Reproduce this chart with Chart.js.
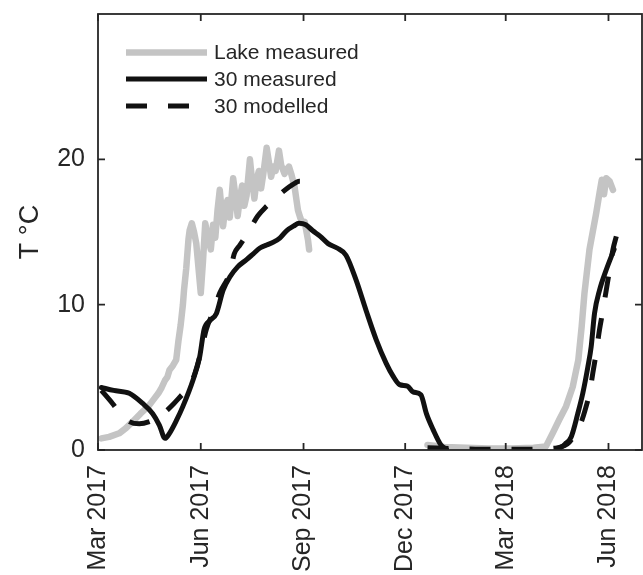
<!DOCTYPE html>
<html lang="en">
<head>
    <meta charset="UTF-8">
    <title>Lake and 30 temperature</title>
    <script src="https://cdn.jsdelivr.net/npm/chart.js"></script>
    <style>
        html, body { margin: 0; padding: 0; background: #fff; }
        #chart { width: 643px; height: 575px; }
    </style>
</head>
<body>
    <div id="chart"><canvas id="canv" width="643" height="575"></canvas></div>
    <script>
        // days counted from 1 Mar 2017
        const tickDays = [0, 92, 184, 275, 365, 457]
        const tickLabels = ['Mar 2017', 'Jun 2017', 'Sep 2017', 'Dec 2017', 'Mar 2018', 'Jun 2018']
        const yTicks = [0, 10, 20]

        const lakeDay = [3, 10, 19, 25, 31, 38, 45, 50, 54, 57, 60, 62, 64, 67, 70, 72, 74, 76, 77, 79, 81, 82, 84, 86, 88, 90, 92, 94, 96, 98,
            101, 103, 105, 107, 109, 111, 112, 114, 116, 118, 121, 123, 125, 127, 129, 131, 133, 136, 138, 140, 142, 144, 146, 148,
            151, 153, 155, 157, 159, 162, 164, 167, 169, 171, 173, 176, 179, 181, 183, 185, 188, 189,
            240,
            295, 310, 330, 350, 370, 390, 401, 407, 413, 419, 425, 430, 433, 435.5, 440, 446, 449, 451, 453, 455, 458, 461]
        const lakeT = [0.8, 0.9, 1.15, 1.5, 1.95, 2.5, 3.0, 3.5, 3.9, 4.3, 4.8, 5.0, 5.5, 5.8, 6.2, 7.5, 8.6, 10.0, 11.0, 12.5, 14.5, 15.1, 15.6, 15.0, 14.2, 12.5, 10.8, 13.0, 15.6, 14.8,
            13.8, 15.5, 14.6, 16.5, 17.9, 16.2, 15.4, 16.8, 17.2, 16.0, 18.7, 17.5, 16.1, 17.3, 18.2, 16.8, 17.5, 20.0, 18.5, 17.3, 18.6, 19.2, 18.0, 19.0,
            20.8, 19.8, 18.8, 19.5, 19.2, 20.6, 19.6, 19.0, 19.3, 19.5, 19.0, 18.1, 16.5, 16.0, 15.6, 15.7, 14.45, 13.8,
            null,
            0.35, 0.2, 0.15, 0.1, 0.1, 0.15, 0.25, 1.15, 2.1, 3.0, 4.35, 6.2, 8.5, 10.8, 13.8, 16.3, 17.7, 18.6, 17.6, 18.7, 18.5, 17.9]

        const measDay = [3, 14, 28, 40, 49, 55, 60, 64, 70, 76, 85, 91, 95, 100, 106, 112, 118, 125, 133, 139, 145, 151, 157, 163, 169, 175, 180, 186,
            192, 199, 206, 214, 222, 231, 240, 249, 258, 264, 270, 277, 282, 289, 294, 300, 307, 312,
            360,
            412, 418, 423.6, 429.5, 434, 438.5, 441.5, 444.5, 449, 455, 462]
        const measT = [4.3, 4.1, 3.9, 3.2, 2.5, 1.7, 0.8, 1.15, 2.0, 3.0, 4.8, 6.4, 8.3, 8.9, 9.4, 11.0, 11.9, 12.6, 13.1, 13.5, 13.9, 14.1, 14.3, 14.6, 15.1, 15.4, 15.6, 15.5,
            15.1, 14.7, 14.2, 13.9, 13.4, 11.7, 9.6, 7.6, 5.96, 5.1, 4.5, 4.4, 4.0, 3.8, 2.5, 1.4, 0.35, 0.05,
            null,
            0.05, 0.4, 0.9, 2.5, 3.9, 5.7, 7.1, 9.4, 11.0, 12.4, 13.8]

        const modDay = [3, 13, 20, 28, 37, 46, 55, 62, 68, 74, 80, 85, 91, 97, 103, 109, 118, 122, 127, 133, 143, 150, 156, 163, 171, 176, 180, 184, 188,
            240,
            295, 320, 350, 380, 405, 411, 420, 428, 433, 437, 440, 443, 446, 449, 452, 455, 458, 461, 464]
        const modT = [4.1, 3.2, 2.5, 1.95, 1.8, 1.95, 2.3, 2.75, 3.2, 3.7, 4.2, 4.9, 6.4, 8.3, 9.5, 10.8, 12.2, 13.5, 14.1, 14.8, 16.1, 16.7, 17.1, 17.6, 18.1, 18.35, 18.5, 18.5, 18.3,
            null,
            0.15, 0.1, 0.05, 0.05, 0.1, 0.15, 0.4, 1.2, 2.0, 3.0, 3.9, 5.3, 6.7, 8.3, 9.6, 11.0, 12.4, 13.8, 14.7]

        const seriesNames = ['Lake measured', '30 measured', '30 modelled']

        const axisColor = '#262626'
        const grayLine = '#c4c4c4'
        const blackLine = '#111111'
        const fontFamily = '"Liberation Sans", Arial, Helvetica, sans-serif'

        function toPoints(days, temps) {
            return days.map((d, i) => ({ x: d, y: temps[i] }))
        }

        // no extra room for half labels, the box is placed by layout padding
        function noPad(scale) {
            scale.paddingTop = 0
            scale.paddingBottom = 0
            scale.paddingLeft = 0
            scale.paddingRight = 0
        }

        // box round the axes with ticks pointing in, plus the legend
        const boxPlugin = {
            id: 'boxPlugin',
            afterDatasetsDraw(chart) {
                const { ctx, chartArea: a, scales } = chart
                ctx.save()
                ctx.strokeStyle = axisColor
                ctx.lineWidth = 1.8
                ctx.strokeRect(a.left, a.top, a.right - a.left, a.bottom - a.top)
                ctx.beginPath()
                tickDays.forEach(d => {
                    const px = scales.x.getPixelForValue(d)
                    ctx.moveTo(px, a.bottom); ctx.lineTo(px, a.bottom - 7)
                    ctx.moveTo(px, a.top); ctx.lineTo(px, a.top + 7)
                })
                yTicks.forEach(v => {
                    const py = scales.y.getPixelForValue(v)
                    ctx.moveTo(a.left, py); ctx.lineTo(a.left + 7, py)
                    ctx.moveTo(a.right, py); ctx.lineTo(a.right - 7, py)
                })
                ctx.stroke()

                // legend
                const x0 = a.left + 28, x1 = a.left + 109
                const rows = [a.top + 38.5, a.top + 65, a.top + 92]
                chart.data.datasets.forEach((ds, i) => {
                    ctx.beginPath()
                    ctx.strokeStyle = ds.borderColor
                    ctx.lineWidth = ds.borderWidth
                    ctx.lineCap = 'butt'
                    ctx.setLineDash(ds.borderDash || [])
                    ctx.moveTo(x0, rows[i]); ctx.lineTo(x1, rows[i])
                    ctx.stroke()
                    ctx.setLineDash([])
                    ctx.fillStyle = axisColor
                    ctx.font = '21px ' + fontFamily
                    ctx.textBaseline = 'middle'
                    ctx.fillText(ds.label, x1 + 7, rows[i] + 1)
                })
                ctx.restore()
            }
        }

        const data = {
            datasets: [{
                label: seriesNames[0],
                data: toPoints(lakeDay, lakeT),
                borderColor: grayLine,
                borderWidth: 6.5,
                order: 3
            }, {
                label: seriesNames[1],
                data: toPoints(measDay, measT),
                borderColor: blackLine,
                borderWidth: 5,
                cubicInterpolationMode: 'monotone',
                order: 2
            }, {
                label: seriesNames[2],
                data: toPoints(modDay, modT),
                borderColor: blackLine,
                borderWidth: 5,
                borderDash: [21, 21],
                borderCapStyle: 'butt',
                cubicInterpolationMode: 'monotone',
                order: 1
            }]
        }

        const config = {
            type: 'line',
            data: data,
            options: {
                responsive: false,
                devicePixelRatio: 1,
                animation: false,
                spanGaps: false,
                layout: { padding: { top: 14, right: 1, left: 0, bottom: 0 } },
                elements: {
                    point: { radius: 0 },
                    line: { borderCapStyle: 'round', borderJoinStyle: 'round', tension: 0 }
                },
                plugins: {
                    legend: { display: false },
                    tooltip: { enabled: false }
                },
                scales: {
                    x: {
                        type: 'linear',
                        min: 0,
                        max: 487,
                        grid: { display: false, drawTicks: false },
                        border: { display: false },
                        afterBuildTicks: scale => { scale.ticks = tickDays.map(v => ({ value: v })) },
                        afterFit: scale => { scale.height = 125; noPad(scale) },
                        ticks: {
                            autoSkip: false,
                            minRotation: 90,
                            maxRotation: 90,
                            padding: 15,
                            color: axisColor,
                            font: { size: 25, family: fontFamily },
                            callback: v => tickLabels[tickDays.indexOf(v)]
                        }
                    },
                    y: {
                        min: 0,
                        max: 30,
                        grid: { display: false, drawTicks: false },
                        border: { display: false },
                        afterBuildTicks: scale => { scale.ticks = yTicks.map(v => ({ value: v })) },
                        afterFit: scale => { scale.width = 98; noPad(scale) },
                        ticks: {
                            padding: 13,
                            color: axisColor,
                            font: { size: 25, family: fontFamily }
                        },
                        title: {
                            display: true,
                            text: 'T °C',
                            color: axisColor,
                            padding: { top: 14, bottom: 0 },
                            font: { size: 27, family: fontFamily }
                        }
                    }
                }
            },
            plugins: [boxPlugin]
        }

        const context = document.getElementById('canv').getContext('2d')
        var chart = new Chart(context, config)
    </script>
</body>
</html>
